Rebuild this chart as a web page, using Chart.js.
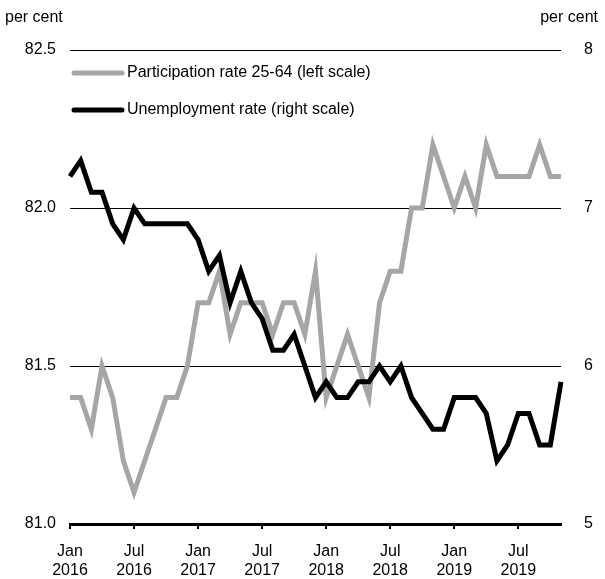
<!DOCTYPE html>
<html>
<head>
<meta charset="utf-8">
<script src="https://cdn.jsdelivr.net/npm/chart.js@4"></script>
<style>
  body { margin: 0; background: #fff; }
  #wrap { width: 605px; height: 579px; }
</style>
</head>
<body>
<div id="wrap"><canvas id="myChart" width="605" height="579"></canvas></div>
<script>
var months = [
  'Jan 2016','Feb 2016','Mar 2016','Apr 2016','May 2016','Jun 2016','Jul 2016','Aug 2016','Sep 2016','Oct 2016','Nov 2016','Dec 2016',
  'Jan 2017','Feb 2017','Mar 2017','Apr 2017','May 2017','Jun 2017','Jul 2017','Aug 2017','Sep 2017','Oct 2017','Nov 2017','Dec 2017',
  'Jan 2018','Feb 2018','Mar 2018','Apr 2018','May 2018','Jun 2018','Jul 2018','Aug 2018','Sep 2018','Oct 2018','Nov 2018','Dec 2018',
  'Jan 2019','Feb 2019','Mar 2019','Apr 2019','May 2019','Jun 2019','Jul 2019','Aug 2019','Sep 2019','Oct 2019','Nov 2019'
];
var participation = [
  81.4, 81.4, 81.3, 81.5, 81.4, 81.2, 81.1, 81.2, 81.3, 81.4, 81.4, 81.5,
  81.7, 81.7, 81.8, 81.6, 81.7, 81.7, 81.7, 81.6, 81.7, 81.7, 81.6, 81.8,
  81.4, 81.5, 81.6, 81.5, 81.4, 81.7, 81.8, 81.8, 82.0, 82.0, 82.2, 82.1,
  82.0, 82.1, 82.0, 82.2, 82.1, 82.1, 82.1, 82.1, 82.2, 82.1, 82.1
];
var unemployment = [
  7.2, 7.3, 7.1, 7.1, 6.9, 6.8, 7.0, 6.9, 6.9, 6.9, 6.9, 6.9,
  6.8, 6.6, 6.7, 6.4, 6.6, 6.4, 6.3, 6.1, 6.1, 6.2, 6.0, 5.8,
  5.9, 5.8, 5.8, 5.9, 5.9, 6.0, 5.9, 6.0, 5.8, 5.7, 5.6, 5.6,
  5.8, 5.8, 5.8, 5.7, 5.4, 5.5, 5.7, 5.7, 5.5, 5.5, 5.9
];
var seriesNames = ['Participation rate 25-64 (left scale)', 'Unemployment rate (right scale)'];
var leftTicks = [81.0, 81.5, 82.0, 82.5];
var rightTicks = [5, 6, 7, 8];

var fontFamily = '"Liberation Sans", Arial, sans-serif';
Chart.defaults.font.family = fontFamily;
Chart.defaults.font.size = 16;
Chart.defaults.color = '#000';

// legend + "per cent" labels
var extras = {
  id: 'extras',
  afterDraw: function(chart){
    var ctx = chart.ctx;
    var area = chart.chartArea;
    ctx.save();
    ctx.font = '16px ' + fontFamily;
    ctx.fillStyle = '#000';
    ctx.textBaseline = 'middle';
    ctx.textAlign = 'left';
    ctx.fillText('per cent', 5, 18);
    ctx.textAlign = 'right';
    ctx.fillText('per cent', 598, 18);

    var ds = chart.data.datasets;
    var rows = [area.top + 23, area.top + 60];
    for (var i = 0; i < ds.length; i++){
      var y = rows[i];
      ctx.strokeStyle = ds[i].borderColor;
      ctx.lineWidth = 5;
      ctx.lineCap = 'round';
      ctx.beginPath();
      ctx.moveTo(area.left + 4, y);
      ctx.lineTo(area.left + 52, y);
      ctx.stroke();
      ctx.textAlign = 'left';
      ctx.fillStyle = '#000';
      ctx.fillText(ds[i].label, area.left + 57, y);
    }
    ctx.restore();
  }
};

var ctx = document.getElementById('myChart').getContext('2d');
var chart = new Chart(ctx, {
  type: 'line',
  data: {
    labels: months,
    datasets: [{
      label: seriesNames[0],
      data: participation,
      yAxisID: 'yLeft',
      borderColor: '#a6a6a6',
      borderWidth: 5,
      pointRadius: 0,
      tension: 0,
      order: 2
    }, {
      label: seriesNames[1],
      data: unemployment,
      yAxisID: 'yRight',
      borderColor: '#000000',
      borderWidth: 5,
      pointRadius: 0,
      tension: 0,
      order: 1
    }]
  },
  options: {
    responsive: false,
    animation: false,
    layout: { padding: { top: 50, bottom: 0, left: 0, right: 0 } },
    plugins: {
      legend: { display: false },
      tooltip: { enabled: false }
    },
    scales: {
      x: {
        offset: false,
        afterFit: function(s){ s.height = 55; },
        border: { display: true, color: '#000', width: 3 },
        grid: {
          drawOnChartArea: false,
          color: '#000',
          lineWidth: 2,
          tickLength: 5
        },
        ticks: {
          autoSkip: false,
          maxRotation: 0,
          padding: 13,
          callback: function(val, idx){
            if (idx % 6 !== 0) return null;
            return months[idx].split(' ');
          }
        }
      },
      yLeft: {
        position: 'left',
        min: 81.0,
        max: 82.5,
        afterFit: function(s){ s.width = 70; },
        afterBuildTicks: function(s){
          s.ticks = leftTicks.map(function(v){ return { value: v }; });
        },
        border: { display: false },
        grid: {
          drawTicks: false,
          color: function(c){ return c.tick && c.tick.value === 81.0 ? 'rgba(0,0,0,0)' : '#000'; },
          lineWidth: 1
        },
        ticks: {
          padding: 14,
          callback: function(v){ return Number(v).toFixed(1); }
        }
      },
      yRight: {
        position: 'right',
        min: 5,
        max: 8,
        afterFit: function(s){ s.width = 44; },
        afterBuildTicks: function(s){
          s.ticks = rightTicks.map(function(v){ return { value: v }; });
        },
        border: { display: false },
        grid: { display: false, drawTicks: false },
        ticks: {
          padding: 23,
          callback: function(v){ return String(v); }
        }
      }
    }
  },
  plugins: [extras]
});
</script>
</body>
</html>
